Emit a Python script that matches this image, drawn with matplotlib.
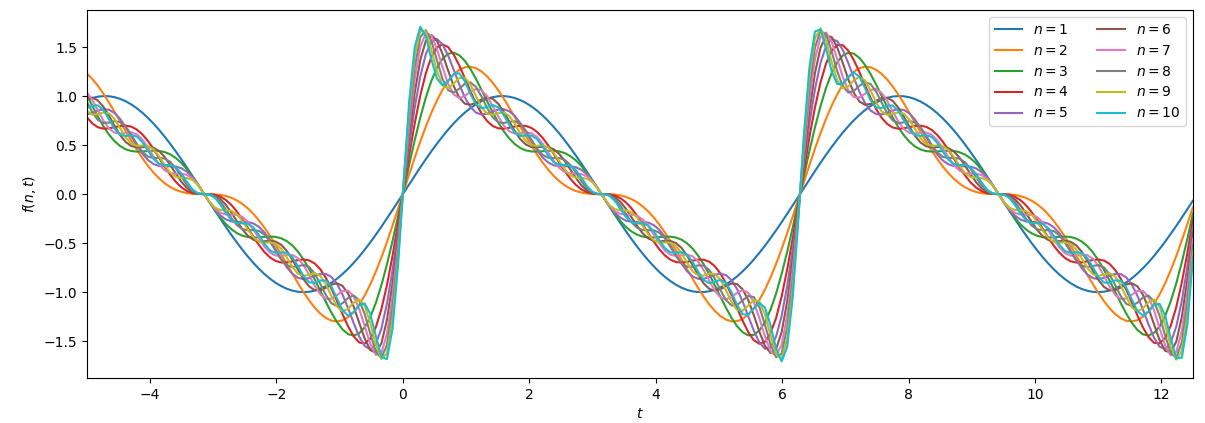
import numpy as np
import matplotlib.pyplot as plt

# partial sums of the sawtooth Fourier series: f(n, t) = sum_{k=1}^{n} sin(k t) / k
n_values = [1, 2, 3, 4, 5, 6, 7, 8, 9, 10]
t_start, t_stop, t_count = -5, 12.5, 200
t = np.linspace(t_start, t_stop, t_count)


def f(n, t):
    return sum(np.sin(k * t) / k for k in range(1, n + 1))


fig, ax = plt.subplots(figsize=(12.05, 4.23), dpi=100)
fig.subplots_adjust(left=0.072, right=0.99, top=0.976, bottom=0.106)

for n in n_values:
    ax.plot(t, f(n, t), label=f"$n = {n}$")

ax.set_xlim(t_start, t_stop)
ax.set_xlabel("$t$")
ax.set_ylabel("$f(n, t)$")
ax.legend(ncol=2)

plt.savefig("out.png")
